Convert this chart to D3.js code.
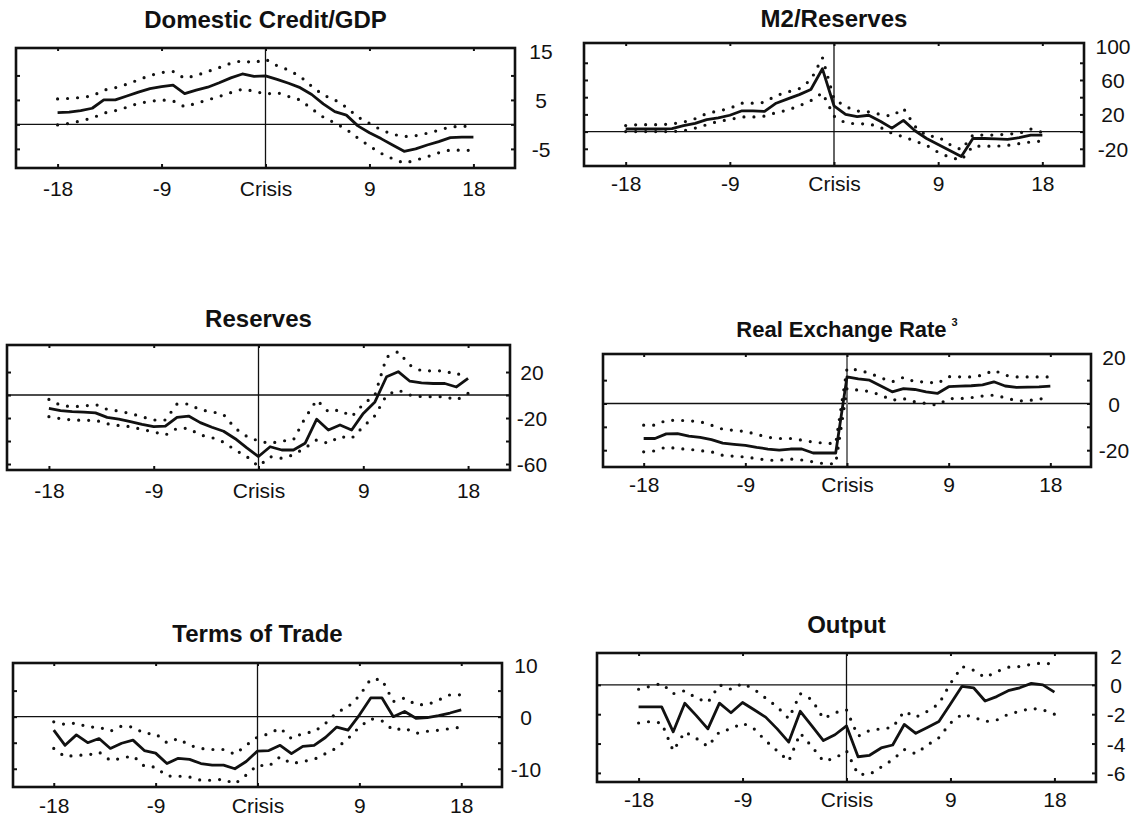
<!DOCTYPE html>
<html><head><meta charset="utf-8">
<script src="https://cdn.jsdelivr.net/npm/d3@7"></script>
<style>body{margin:0;background:#fff}svg{display:block}</style>
</head><body>
<svg id="c" width="1136" height="819"></svg>
<script>
// ---------- data ----------
const months = d3.range(-18, 19);
const xTickValues = [-18, -9, 0, 9, 18];
const xTickLabels = ["-18", "-9", "Crisis", "9", "18"];

const titles = ["Domestic Credit/GDP", "M2/Reserves", "Reserves", "Real Exchange Rate", "Terms of Trade", "Output"];

// Domestic credit / GDP
const dcMid = [2.4,2.5,2.8,3.3,5.0,5.0,5.8,6.6,7.3,7.7, 8.0,6.3,7.0,7.6,8.5,9.5,10.3,9.8, 9.9, 9.2,8.4,7.5,6.1,4.2,2.6,1.9,-0.3,-1.7, -2.9,-4.2,-5.5,-5.0,-4.2,-3.5,-2.7,-2.6,-2.6];
const dcUp  = [5.2,5.3,5.5,5.8,7.0,7.5,8.2,9.1,10.0,10.6, 10.8,9.4,10.0,10.8,11.6,12.5,13.0,12.6, 13.3, 12.0,11.1,9.8,7.8,6.0,5.0,3.5,1.5,0.2, -1.1,-2.0,-2.5,-2.3,-1.8,-1.2,-0.5,-0.4,-0.4];
const dcLo  = [-0.1,0.2,0.7,1.3,2.3,2.8,3.5,4.3,4.7,5.0, 4.8,3.6,4.3,5.0,5.7,6.5,7.2,6.8, 6.2, 6.5,5.7,5.0,3.2,1.5,0.3,-1.0,-2.8,-4.4, -5.9,-7.0,-7.9,-7.3,-6.6,-5.8,-5.2,-5.3,-5.3];

// M2 / Reserves
const m2Mid = [3,3,3,3,3.5,7,9.5,14,16,19, 24,24,23.5,33,38,43,49,73, 30, 20,17.5,19,12,4,13,1,-8,-15, -22,-29,-8,-8,-8.5,-9,-7,-4,-4];
const m2Up  = [7,8,8,8,9,11,15,21,24,27, 33,33,34,42,46,50,60,86, 38, 29,24,23,20,18,27,6,-5,-6, -15,-21,-4,-4,-4,-3,-2,3,-1];
const m2Lo  = [0,0,0,0,0,1,4,8,12,14, 17,17,18,22,25,30,36,45, 18, 10,9,9,5,-2,-6,-11,-16,-24, -30,-33,-17,-17,-17,-16,-14,-12,-11];

// Reserves
const resMid = [-11.6,-13.5,-14.5,-14.8,-15.5,-19.4,-21,-23.2,-25.5,-27.5, -27,-19.4,-18.3,-24,-28,-31.5,-38,-46, -53.5, -45,-47.8,-47.8,-42,-21,-30.4,-26,-30.4,-16, -6,15.9,20.3,12,10.5,10,10,7,14.5];
const resUp  = [-3.8,-9,-10.2,-9.6,-8.1,-12.5,-14,-16,-19,-21.7, -21.7,-7.8,-7.8,-13,-14.5,-17,-29,-36, -40, -42,-40,-39,-20,-4.3,-14.5,-13,-18.8,-8, 0,33,37.7,26,21,21,21,17.4,21];
const resLo  = [-18.8,-20.5,-21.7,-22,-22,-25,-26.5,-27.5,-30,-32, -34.8,-29,-29,-34.8,-37,-41,-47.8,-53.6, -62, -53.6,-55,-52,-46,-39,-42,-36,-37.7,-27.5, -18,0,4.3,0,-1.4,-1.4,-1.4,-4.3,1.4];

// Real exchange rate
const rerMid = [-15,-15,-13,-12.9,-14,-14.5,-15.5,-17.0,-17.5,-17.9, -18.8,-19.5,-20,-19.5,-19.5,-21.2,-21.2,-21.2, 11.4, 10.5,10,7.5,5,6.4,6,5,4.3,7.2, 7.4,7.6,8,9.3,7.5,6.9,7,7.1,7.4];
const rerUp  = [-9.3,-9.3,-7.2,-7.2,-7.4,-7.8,-9.3,-11,-11.5,-12, -13.2,-14.5,-15,-15,-15.7,-16.5,-17,-17.2, 15, 14.3,13,11,9.3,11.2,9.3,9.3,8.6,11.5, 11.4,11.4,12.1,14.3,12.1,11.4,11.4,11.4,11.4];
const rerLo  = [-20.7,-20.3,-18.6,-19.3,-19.6,-20.2,-20.7,-22.2,-22.6,-22.9, -23.6,-24.3,-24.3,-23.8,-24.2,-25,-25.8,-25.8, 6.4, 5.7,5.2,3.6,1.4,2.1,0.7,0,-0.7,2.1, 2.1,2.5,3.2,3.6,2.5,1.2,1.1,2.1,1.5];

// Terms of trade
const totMid = [-2.6,-5.5,-3.5,-5.0,-4.2,-6.1,-5.1,-4.5,-6.5,-7.0, -9.0,-8.0,-8.2,-9.0,-9.3,-9.3,-10.0,-8.6, -6.6, -6.5,-5.5,-7.1,-5.7,-5.5,-4.0,-2.0,-2.6,0.3, 3.6,3.6,0,1.0,-0.3,-0.2,0.2,0.7,1.3];
const totUp  = [-1.0,-1.5,-1.2,-2.0,-2.0,-2.8,-1.8,-2.0,-3.2,-3.3, -5.0,-4.2,-5.5,-6.1,-6.3,-6.3,-7.2,-5.5, -3.9, -3.3,-2.2,-4.2,-3.2,-2.9,-1.3,0.8,1.9,4.0, 7.2,7.1,2.9,3.6,2.3,2.3,3.2,4.2,4.2];
const totLo  = [-6.1,-7.7,-7.4,-7.4,-6.8,-8.4,-8.0,-7.5,-9.5,-9.7, -11.4,-11.4,-11.6,-12.2,-12.2,-12.0,-12.9,-11.2, -9.3, -9.5,-7.7,-9.0,-8.6,-8.2,-7.1,-6.0,-4.2,-2.0, -0.4,-0.8,-2.6,-2.2,-3.2,-2.8,-2.6,-2.3,-2.0];

// Output
const outMid = [-1.5,-1.5,-1.5,-3.2,-1.25,-2.1,-3.0,-1.25,-1.9,-1.2, -1.7,-2.2,-3.0,-3.9,-1.8,-2.8,-3.8,-3.4, -2.8, -4.9,-4.8,-4.3,-4.1,-2.7,-3.3,-2.9,-2.5,-1.3, -0.1,-0.2,-1.1,-0.8,-0.4,-0.2,0.1,0,-0.5];
const outUp  = [-0.3,-0.1,0.1,-0.6,-0.4,-0.9,-1.2,0,-0.3,0.1, -0.3,-0.9,-1.5,-2.3,-0.6,-1.0,-2.3,-1.9, -1.7, -3.5,-3.1,-3.0,-2.9,-1.8,-2.2,-1.8,-1.3,0.1, 1.25,1.0,0.5,0.9,1.2,1.25,1.4,1.5,1.4];
const outLo  = [-2.6,-2.5,-2.6,-4.5,-3.2,-3.65,-4.2,-3.2,-3.0,-2.6, -3.0,-3.8,-4.5,-5.2,-3.3,-4.2,-5.2,-5.0, -4.5, -6.1,-6.1,-5.6,-5.1,-4.4,-4.7,-4.1,-3.6,-2.6, -2.0,-2.2,-2.5,-2.4,-2.0,-1.8,-1.6,-1.7,-2.0];

// y axis labels and tick marks
const yLabelSets = [[15,5,-5],[100,60,20,-20],[20,-20,-60],[20,0,-20],[10,0,-10],[2,0,-2,-4,-6]];
const yTickSets  = [[-5,0,5,10],[-20,0,20,40,60,80],[-60,-40,-20,0,20],[-20,-10,0,10],[-10,-5,0,5],[-6,-4,-2,0]];

// ---------- layout ----------
const layout = [
  {l:16,  t:48,  r:515,  b:168, yd:[-8.9,15.6], titleY:28,  xlab:28, ylab:26},
  {l:584, t:43,  r:1084, b:166, yd:[-40,103],   titleY:27,  xlab:25, ylab:29},
  {l:7,   t:345, r:510,  b:470, yd:[-65.2,43.5],titleY:327, xlab:28, ylab:22},
  {l:603, t:354, r:1091, b:467, yd:[-27.2,21.2],titleY:337, xlab:25, ylab:23},
  {l:13,  t:663, r:502,  b:787, yd:[-13.5,10.3],titleY:642, xlab:26, ylab:24},
  {l:597, t:653, r:1096, b:782, yd:[-6.62,2.17],titleY:633, xlab:25, ylab:20}
];
const series = [[dcMid,dcUp,dcLo],[m2Mid,m2Up,m2Lo],[resMid,resUp,resLo],[rerMid,rerUp,rerLo],[totMid,totUp,totLo],[outMid,outUp,outLo]];

const svg = d3.select("#c");
const FONT = "'Liberation Sans', Arial, Helvetica, sans-serif";
const ink = "#111";

layout.forEach((L, p) => {
  const x = d3.scaleLinear().domain([-21.6, 21.6]).range([L.l, L.r]);
  const y = d3.scaleLinear().domain(L.yd).range([L.b, L.t]);
  const g = svg.append("g");

  // title
  const tt = g.append("text").attr("x", (L.l + L.r) / 2).attr("y", L.titleY)
    .attr("text-anchor", "middle").attr("font-family", FONT)
    .attr("font-weight", "bold").attr("font-size", p === 3 ? 22 : 24).attr("fill", ink)
    .text(titles[p]);
  if (p === 3) {
    tt.append("tspan").attr("font-size", 11).attr("dy", -11).attr("dx", 5).text("3");
  }

  // zero line and crisis line
  g.append("line").attr("x1", L.l).attr("x2", L.r).attr("y1", y(0)).attr("y2", y(0))
    .attr("stroke", ink).attr("stroke-width", 1.4);
  g.append("line").attr("x1", x(0)).attr("x2", x(0)).attr("y1", L.t).attr("y2", L.b)
    .attr("stroke", p === 3 ? "#777" : ink).attr("stroke-width", p === 3 ? 2 : 1.3);

  // inner tick marks
  const tickStyle = sel => { sel.select(".domain").remove(); sel.selectAll("line").attr("stroke", ink).attr("stroke-width", 2); sel.selectAll("text").remove(); };
  g.append("g").attr("transform", `translate(0,${L.b})`).call(d3.axisBottom(x).tickValues(xTickValues).tickSize(-4)).call(tickStyle);
  g.append("g").attr("transform", `translate(0,${L.t})`).call(d3.axisTop(x).tickValues(xTickValues).tickSize(-3)).call(tickStyle);
  g.append("g").attr("transform", `translate(${L.l},0)`).call(d3.axisLeft(y).tickValues(yTickSets[p]).tickSize(-4)).call(tickStyle);
  g.append("g").attr("transform", `translate(${L.r},0)`).call(d3.axisRight(y).tickValues(yTickSets[p]).tickSize(-4)).call(tickStyle);

  // x labels
  const xa = g.append("g").attr("transform", `translate(0,${L.b})`)
    .call(d3.axisBottom(x).tickValues(xTickValues).tickFormat((d, i) => xTickLabels[i]).tickSize(0).tickPadding(0));
  xa.select(".domain").remove();
  xa.selectAll("text").attr("y", L.xlab).attr("dy", 0).attr("font-family", FONT).attr("font-size", 21).attr("fill", ink);

  // y labels (right), plain hyphen minus as in the original
  const ya = g.append("g").attr("transform", `translate(${L.r},0)`)
    .call(d3.axisRight(y).tickValues(yLabelSets[p]).tickFormat(d => String(d)).tickSize(0).tickPadding(0));
  ya.select(".domain").remove();
  ya.selectAll("text").attr("x", L.ylab).attr("text-anchor", "middle").attr("dy", "0.36em")
    .attr("font-family", FONT).attr("font-size", 21).attr("fill", ink);

  // series
  const line = d3.line().x((d, i) => x(months[i])).y(d => y(d));
  const [mid, up, lo] = series[p];
  [up, lo].forEach(s => {
    g.append("path").attr("d", line(s)).attr("fill", "none").attr("stroke", ink)
      .attr("stroke-width", 3.2).attr("stroke-linecap", "round").attr("stroke-dasharray", "0,10");
  });
  g.append("path").attr("d", line(mid)).attr("fill", "none").attr("stroke", ink)
    .attr("stroke-width", 2.8).attr("stroke-linejoin", "round");

  // frame
  g.append("rect").attr("x", L.l).attr("y", L.t).attr("width", L.r - L.l).attr("height", L.b - L.t)
    .attr("fill", "none").attr("stroke", ink).attr("stroke-width", 2.6);
});
</script>
</body></html>
